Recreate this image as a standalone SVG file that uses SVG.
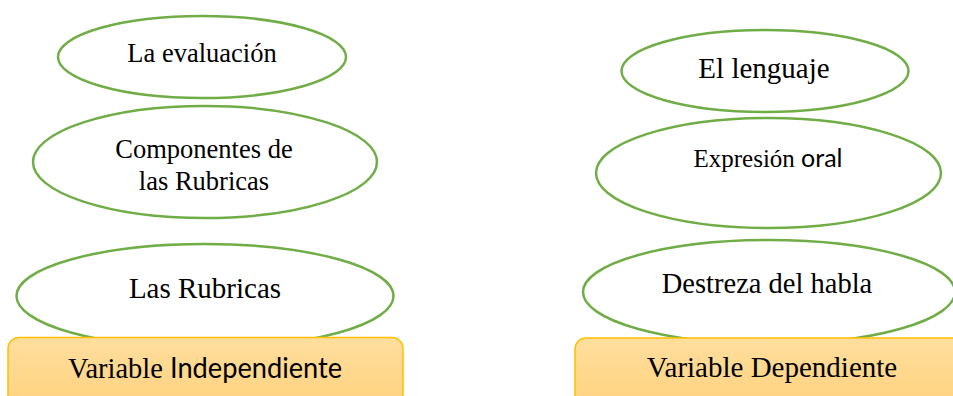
<svg xmlns="http://www.w3.org/2000/svg" width="953" height="396" viewBox="0 0 953 396">
<style>
.node ellipse{fill:#ffffff;stroke:#70AD47;stroke-width:2.5}
.box rect{fill:url(#boxfill);stroke:#FFC000;stroke-width:1.5}
.t{font-family:"Liberation Serif","Times New Roman",serif;fill:#000;text-anchor:middle}
.s{font-family:Lato,"Open Sans","Liberation Sans",sans-serif}
</style>
<defs>
<linearGradient id="boxfill" x1="0" y1="0" x2="0" y2="1">
<stop offset="0" stop-color="#FFDE9E"/>
<stop offset="1" stop-color="#FFD27E"/>
</linearGradient>
</defs>
<rect width="953" height="396" fill="#ffffff"/>
<g id="connectors"></g>
<g id="n-evaluacion" class="node">
<ellipse cx="202" cy="57" rx="144" ry="41"/>
<text class="t" x="202" y="62" font-size="26.5">La evaluación</text>
</g>
<g id="n-componentes" class="node">
<ellipse cx="205" cy="162" rx="172" ry="56"/>
<text class="t" x="204" y="158" font-size="26.5">Componentes de</text>
<text class="t" x="204" y="190" font-size="26.5">las Rubricas</text>
</g>
<g id="n-rubricas" class="node">
<ellipse cx="205" cy="296" rx="188.5" ry="52"/>
<text class="t" x="205" y="298" font-size="29">Las Rubricas</text>
</g>
<g id="n-lenguaje" class="node">
<ellipse cx="765" cy="71" rx="143.5" ry="41"/>
<text class="t" x="764" y="78" font-size="29">El lenguaje</text>
</g>
<g id="n-expresion" class="node">
<ellipse cx="768.5" cy="173" rx="172.5" ry="55"/>
<text class="t" x="768" y="167" font-size="25">Expresión <tspan class="s">oral</tspan></text>
</g>
<g id="n-destreza" class="node">
<ellipse cx="769" cy="292" rx="186" ry="52"/>
<text class="t" x="767" y="293" font-size="28.5">Destreza del habla</text>
</g>
<g id="n-independiente" class="box">
<rect x="8" y="337.5" width="395" height="70" rx="11"/>
<text class="t" x="205" y="378" font-size="28.5">Variable <tspan class="s" textLength="172" lengthAdjust="spacingAndGlyphs">Independiente</tspan></text>
</g>
<g id="n-dependiente" class="box">
<rect x="575" y="338" width="400" height="70" rx="11"/>
<text class="t" x="772" y="377" font-size="29">Variable Dependiente</text>
</g>
</svg>
